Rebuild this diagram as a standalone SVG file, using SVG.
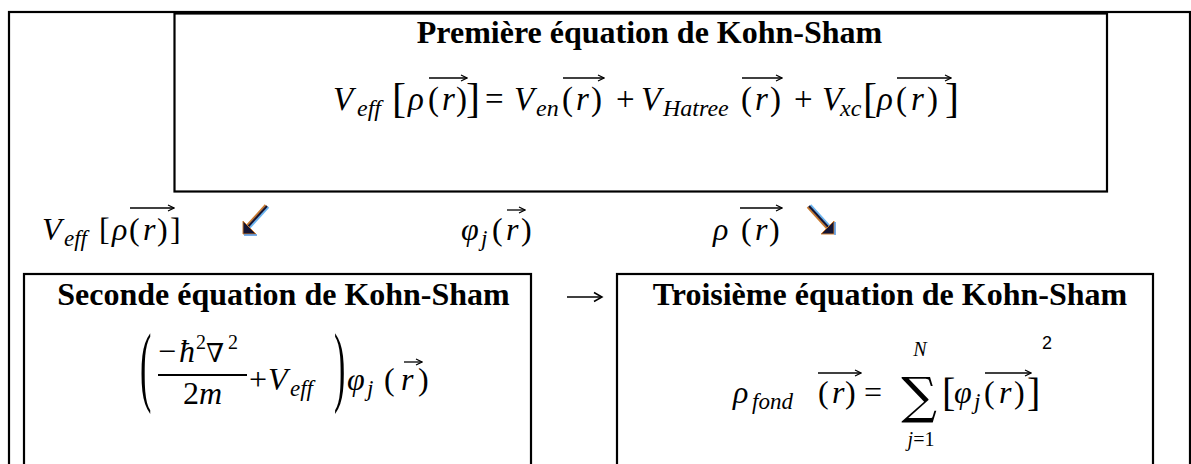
<svg xmlns="http://www.w3.org/2000/svg" width="1191" height="464" viewBox="0 0 1191 464">
<style>
.box{fill:none;stroke:#000;stroke-width:2.2}
.vec{fill:none;stroke:#000;stroke-width:1.3;marker-end:url(#vh)}
.arr{fill:none;stroke:#000;stroke-width:1.5;marker-end:url(#ah)}
</style>
<defs>
<marker id="vh" markerWidth="8" markerHeight="8" refX="7" refY="4" orient="auto" markerUnits="userSpaceOnUse">
<path d="M1,1 L7,4 L1,7" fill="none" stroke="#000" stroke-width="1.2"/>
</marker>
<marker id="ah" markerWidth="12" markerHeight="12" refX="10" refY="6" orient="auto" markerUnits="userSpaceOnUse">
<path d="M2,1.5 L10,6 L2,10.5" fill="none" stroke="#000" stroke-width="1.5"/>
</marker>
</defs>
<rect width="1191" height="464" fill="#fff"/>
<rect id="frame" class="box" x="9" y="12" width="1181" height="500"/>

<g id="kohn-sham-1">
<rect class="box" x="174.5" y="13.5" width="932.5" height="178"/>
<text x="649.5" y="43" text-anchor="middle" font-family="Liberation Serif" font-weight="bold" font-size="32">Première équation de Kohn-Sham</text>
<text x="333" y="110" font-family="Liberation Serif" font-style="italic" font-size="33">V</text>
<text x="357" y="116" font-family="Liberation Serif" font-style="italic" font-size="24">eff</text>
<text x="392" y="112" font-family="Liberation Serif" font-size="42">[</text>
<text x="408" y="110" font-family="Liberation Serif" font-style="italic" font-size="33">ρ</text>
<text x="428" y="110" font-family="Liberation Serif" font-size="33">(</text>
<text x="442" y="110" font-family="Liberation Serif" font-style="italic" font-size="33">r</text>
<text x="456" y="110" font-family="Liberation Serif" font-size="33">)</text>
<text x="466" y="112" font-family="Liberation Serif" font-size="42">]</text>
<text x="485" y="110" font-family="Liberation Serif" font-size="33">=</text>
<text x="514" y="110" font-family="Liberation Serif" font-style="italic" font-size="33">V</text>
<text x="536" y="116" font-family="Liberation Serif" font-style="italic" font-size="24">en</text>
<text x="562" y="110" font-family="Liberation Serif" font-size="33">(</text>
<text x="576" y="110" font-family="Liberation Serif" font-style="italic" font-size="33">r</text>
<text x="591" y="110" font-family="Liberation Serif" font-size="33">)</text>
<text x="616" y="110" font-family="Liberation Serif" font-size="33">+</text>
<text x="641" y="110" font-family="Liberation Serif" font-style="italic" font-size="33">V</text>
<text x="663" y="116" font-family="Liberation Serif" font-style="italic" font-size="24">Hatree</text>
<text x="741" y="110" font-family="Liberation Serif" font-size="33">(</text>
<text x="755" y="110" font-family="Liberation Serif" font-style="italic" font-size="33">r</text>
<text x="770" y="110" font-family="Liberation Serif" font-size="33">)</text>
<text x="794" y="110" font-family="Liberation Serif" font-size="33">+</text>
<text x="822" y="110" font-family="Liberation Serif" font-style="italic" font-size="33">V</text>
<text x="840" y="116" font-family="Liberation Serif" font-style="italic" font-size="24">xc</text>
<text x="863" y="112" font-family="Liberation Serif" font-size="42">[</text>
<text x="877" y="110" font-family="Liberation Serif" font-style="italic" font-size="33">ρ</text>
<text x="896" y="110" font-family="Liberation Serif" font-size="33">(</text>
<text x="911" y="110" font-family="Liberation Serif" font-style="italic" font-size="33">r</text>
<text x="927" y="110" font-family="Liberation Serif" font-size="33">)</text>
<text x="945" y="112" font-family="Liberation Serif" font-size="42">]</text>
<path class="vec" d="M429 78 H467"/>
<path class="vec" d="M563 78 H604"/>
<path class="vec" d="M742 78 H782"/>
<path class="vec" d="M897 78 H951"/>
</g>

<g id="label-veff">
<text x="42" y="240" font-family="Liberation Serif" font-style="italic" font-size="32">V</text>
<text x="64" y="246" font-family="Liberation Serif" font-style="italic" font-size="23">eff</text>
<text x="99" y="240" font-family="Liberation Serif" font-size="32">[</text>
<text x="112" y="240" font-family="Liberation Serif" font-style="italic" font-size="32">ρ</text>
<text x="129" y="240" font-family="Liberation Serif" font-size="32">(</text>
<text x="143" y="240" font-family="Liberation Serif" font-style="italic" font-size="32">r</text>
<text x="157" y="240" font-family="Liberation Serif" font-size="32">)</text>
<text x="170" y="240" font-family="Liberation Serif" font-size="32">]</text>
<path class="vec" d="M130 208 H174"/>
</g>

<g id="label-phi">
<text x="461" y="240" font-family="Liberation Serif" font-style="italic" font-size="32">φ</text>
<text x="481" y="246" font-family="Liberation Serif" font-style="italic" font-size="23">j</text>
<text x="492" y="240" font-family="Liberation Serif" font-size="32">(</text>
<text x="506" y="240" font-family="Liberation Serif" font-style="italic" font-size="32">r</text>
<text x="521" y="240" font-family="Liberation Serif" font-size="32">)</text>
<path class="vec" d="M507 210 H525"/>
</g>

<g id="label-rho">
<text x="713" y="240" font-family="Liberation Serif" font-style="italic" font-size="32">ρ</text>
<text x="741" y="240" font-family="Liberation Serif" font-size="32">(</text>
<text x="755" y="240" font-family="Liberation Serif" font-style="italic" font-size="32">r</text>
<text x="769" y="240" font-family="Liberation Serif" font-size="32">)</text>
<path class="vec" d="M740 208 H782"/>
</g>

<g id="kohn-sham-2">
<rect class="box" x="24" y="274" width="507" height="250"/>
<text x="283.5" y="305" text-anchor="middle" font-family="Liberation Serif" font-weight="bold" font-size="32">Seconde équation de Kohn-Sham</text>
<text transform="translate(140,395) scale(1,2.6)" font-family="Liberation Serif" font-size="34">(</text>
<text x="158" y="362" font-family="Liberation Serif" font-size="32">−</text>
<text x="179" y="362" font-family="Liberation Serif" font-style="italic" font-size="32">ħ</text>
<text x="196" y="349" font-family="Liberation Serif" font-size="20">2</text>
<text x="206" y="362" font-family="DejaVu Serif" font-size="26">∇</text>
<text x="228" y="349" font-family="Liberation Serif" font-size="20">2</text>
<line x1="158" y1="375" x2="247" y2="375" stroke="#000" stroke-width="2"/>
<text x="183" y="404" font-family="Liberation Serif" font-size="32">2</text>
<text x="199" y="404" font-family="Liberation Serif" font-style="italic" font-size="32">m</text>
<text x="249" y="390" font-family="Liberation Serif" font-size="32">+</text>
<text x="268" y="390" font-family="Liberation Serif" font-style="italic" font-size="32">V</text>
<text x="290" y="396" font-family="Liberation Serif" font-style="italic" font-size="23">eff</text>
<text transform="translate(334,395) scale(1,2.6)" font-family="Liberation Serif" font-size="34">)</text>
<text x="347" y="390" font-family="Liberation Serif" font-style="italic" font-size="32">φ</text>
<text x="367" y="396" font-family="Liberation Serif" font-style="italic" font-size="23">j</text>
<text x="384" y="390" font-family="Liberation Serif" font-size="32">(</text>
<text x="401" y="390" font-family="Liberation Serif" font-style="italic" font-size="32">r</text>
<text x="418" y="390" font-family="Liberation Serif" font-size="32">)</text>
<path class="vec" d="M404 362 H422"/>
</g>

<g id="kohn-sham-3">
<rect class="box" x="617" y="274" width="536" height="250"/>
<text x="890" y="305" text-anchor="middle" font-family="Liberation Serif" font-weight="bold" font-size="32">Troisième équation de Kohn-Sham</text>
<text x="733" y="403" font-family="Liberation Serif" font-style="italic" font-size="32">ρ</text>
<text x="752" y="409" font-family="Liberation Serif" font-style="italic" font-size="23">fond</text>
<text x="818" y="403" font-family="Liberation Serif" font-size="32">(</text>
<text x="832" y="403" font-family="Liberation Serif" font-style="italic" font-size="32">r</text>
<text x="845" y="403" font-family="Liberation Serif" font-size="32">)</text>
<text x="864" y="403" font-family="Liberation Serif" font-size="32">=</text>
<text x="919" y="413" text-anchor="middle" font-family="DejaVu Serif" font-size="50">∑</text>
<text x="920" y="356" text-anchor="middle" font-family="Liberation Serif" font-style="italic" font-size="20">N</text>
<text x="921" y="446" text-anchor="middle" font-family="Liberation Serif" font-size="20"><tspan font-style="italic">j</tspan>=1</text>
<text x="942" y="406" font-family="Liberation Serif" font-size="40">[</text>
<text x="954" y="403" font-family="Liberation Serif" font-style="italic" font-size="32">φ</text>
<text x="974" y="409" font-family="Liberation Serif" font-style="italic" font-size="23">j</text>
<text x="984" y="403" font-family="Liberation Serif" font-size="32">(</text>
<text x="999" y="403" font-family="Liberation Serif" font-style="italic" font-size="32">r</text>
<text x="1014" y="403" font-family="Liberation Serif" font-size="32">)</text>
<text x="1027" y="406" font-family="Liberation Serif" font-size="40">]</text>
<text x="1042" y="349" font-family="Liberation Sans" font-size="18">2</text>
<path class="vec" d="M818 373 H861"/>
<path class="vec" d="M985 373 H1031"/>
</g>

<g id="connectors">
<g id="arrow-sw">
<path d="M267 206 L247 228" stroke="#6ab4f0" stroke-width="2" transform="translate(1.5,1)"/>
<path d="M267 206 L247 228" stroke="#c87a30" stroke-width="2" transform="translate(-1.5,-1)"/>
<path d="M267 206 L246 229" stroke="#141432" stroke-width="2"/>
<path d="M243 221 L243 234 L256 234 Z" fill="#141432" stroke="#c87a30" stroke-width="1"/>
<path d="M244 235 L257 235" stroke="#4a90e0" stroke-width="1.5"/>
</g>
<g id="arrow-se">
<path d="M809 206 L829 228" stroke="#6ab4f0" stroke-width="2" transform="translate(1.5,-1)"/>
<path d="M809 206 L829 228" stroke="#c87a30" stroke-width="2" transform="translate(-1.5,1)"/>
<path d="M809 206 L830 229" stroke="#141432" stroke-width="2"/>
<path d="M834 221 L834 234 L821 234 Z" fill="#141432" stroke="#c87a30" stroke-width="1"/>
<path d="M835 222 L835 235" stroke="#4a90e0" stroke-width="1.5"/>
</g>
<path id="arrow-2-3" class="arr" d="M567 297 H602"/>
</g>
</svg>
